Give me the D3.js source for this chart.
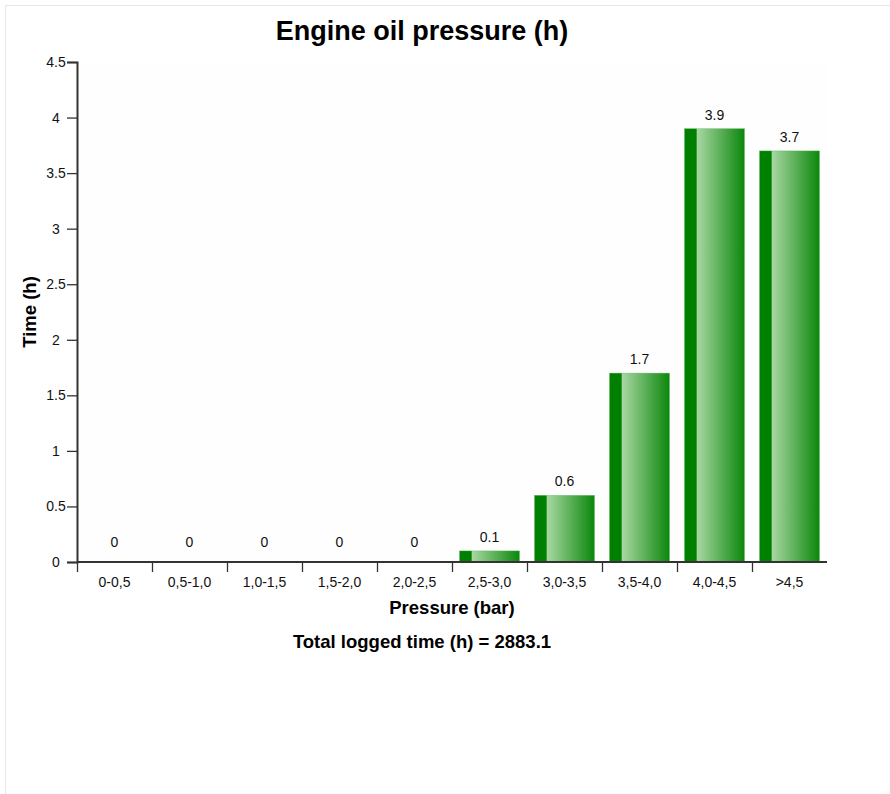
<!DOCTYPE html>
<html>
<head>
<meta charset="utf-8">
<script src="https://cdn.jsdelivr.net/npm/d3@7"></script>
<style>
  html, body { margin: 0; padding: 0; background: #fff; }
  svg { display: block; font-family: "Liberation Sans", Arial, sans-serif; }
</style>
</head>
<body>
<script>
// Oil pressure histogram data
const categories = ["0-0,5", "0,5-1,0", "1,0-1,5", "1,5-2,0", "2,0-2,5", "2,5-3,0", "3,0-3,5", "3,5-4,0", "4,0-4,5", ">4,5"];
const hours = [0, 0, 0, 0, 0, 0.1, 0.6, 1.7, 3.9, 3.7];
const yTicks = [0, 0.5, 1, 1.5, 2, 2.5, 3, 3.5, 4, 4.5];
const titleText = "Engine oil pressure (h)";
const xTitle = "Pressure (bar)";
const yTitle = "Time (h)";
const totalText = "Total logged time (h) = 2883.1";

const W = 890, H = 794;
const margin = { left: 77, right: 63, top: 62, bottom: 232 };
const plotW = W - margin.left - margin.right;   // 750
const plotH = H - margin.top - margin.bottom;   // 500

const svg = d3.select("body").append("svg").attr("width", W).attr("height", H);

// outer frame
svg.append("rect").attr("x", 5.5).attr("y", 5.5).attr("width", W).attr("height", H)
  .attr("fill", "#fff").attr("stroke", "#e6e6e6").attr("stroke-width", 1);

const defs = svg.append("defs");
const grad = defs.append("linearGradient").attr("id", "barFill")
  .attr("x1", "0%").attr("x2", "100%").attr("y1", "0%").attr("y2", "0%");
grad.append("stop").attr("offset", "0%").attr("stop-color", "#008000");
grad.append("stop").attr("offset", "19.5%").attr("stop-color", "#008000");
grad.append("stop").attr("offset", "21%").attr("stop-color", "#a8d7a2");
grad.append("stop").attr("offset", "100%").attr("stop-color", "#0b870b");

const g = svg.append("g").attr("transform", `translate(${margin.left},${margin.top})`);

// plot background
g.append("rect").attr("width", plotW).attr("height", plotH)
  .attr("fill", "#fefefe");

const x = d3.scaleBand().domain(categories).range([0, plotW])
  .paddingInner(0.2).paddingOuter(0.1);
const y = d3.scaleLinear().domain([0, 4.5]).range([plotH, 0]);

// bars
g.selectAll("rect.bar").data(hours).enter().append("rect")
  .attr("class", "bar")
  .attr("x", (d, i) => x(categories[i]))
  .attr("y", d => y(d))
  .attr("width", x.bandwidth())
  .attr("height", d => y(0) - y(d))
  .attr("fill", "url(#barFill)")
  .attr("stroke", d => d > 0 ? "#5cb85c" : "none")
  .attr("stroke-width", 0.6)
  .attr("stroke-opacity", 0.6);

// value labels
g.selectAll("text.val").data(hours).enter().append("text")
  .attr("class", "val")
  .attr("x", (d, i) => x(categories[i]) + x.bandwidth() / 2)
  .attr("y", d => d > 0 ? y(d) - 9 : y(0) - 15)
  .attr("text-anchor", "middle")
  .attr("font-size", 14)
  .attr("fill", "#111")
  .text(d => d);

// y axis
const yAxis = g.append("g").call(d3.axisLeft(y).tickValues(yTicks).tickSize(10).tickFormat(d3.format("")));
yAxis.select(".domain").attr("stroke", "#333").attr("stroke-width", 2);
yAxis.selectAll(".tick line").attr("stroke", "#333").attr("stroke-width", 1.3);
yAxis.selectAll(".tick text")
  .attr("font-family", "Liberation Sans, Arial, sans-serif")
  .attr("font-size", 14).attr("fill", "#111")
  .attr("text-anchor", "middle").attr("x", -21);

// x axis with ticks at band boundaries
const xAxisG = g.append("g").attr("transform", `translate(0,${plotH})`);
xAxisG.append("line").attr("x1", 0).attr("x2", plotW).attr("y1", 0).attr("y2", 0)
  .attr("stroke", "#333").attr("stroke-width", 2);
const boundaries = categories.map(c => x(c) - x.step() * x.paddingInner() / 2);
boundaries[0] = 0;
xAxisG.selectAll("line.tk").data(boundaries).enter().append("line")
  .attr("class", "tk")
  .attr("x1", d => d + 0.5).attr("x2", d => d + 0.5)
  .attr("y1", 0).attr("y2", 10)
  .attr("stroke", "#333").attr("stroke-width", 1.3);
xAxisG.selectAll("text.cat").data(categories).enter().append("text")
  .attr("class", "cat")
  .attr("x", d => x(d) + x.bandwidth() / 2)
  .attr("y", 25)
  .attr("text-anchor", "middle")
  .attr("font-size", 14).attr("fill", "#111")
  .text(d => d);

// titles
svg.append("text").attr("x", 422).attr("y", 40)
  .attr("text-anchor", "middle").attr("font-size", 27).attr("font-weight", "bold")
  .attr("fill", "#000").text(titleText);

svg.append("text").attr("x", margin.left + plotW / 2).attr("y", 614)
  .attr("text-anchor", "middle").attr("font-size", 18.5).attr("font-weight", "bold")
  .attr("fill", "#000").text(xTitle);

svg.append("text").attr("x", 422).attr("y", 648)
  .attr("text-anchor", "middle").attr("font-size", 18.5).attr("font-weight", "bold")
  .attr("fill", "#000").text(totalText);

svg.append("text")
  .attr("transform", `translate(36,${margin.top + plotH / 2}) rotate(-90)`)
  .attr("text-anchor", "middle").attr("font-size", 18.5).attr("font-weight", "bold")
  .attr("fill", "#000").text(yTitle);
</script>
</body>
</html>
